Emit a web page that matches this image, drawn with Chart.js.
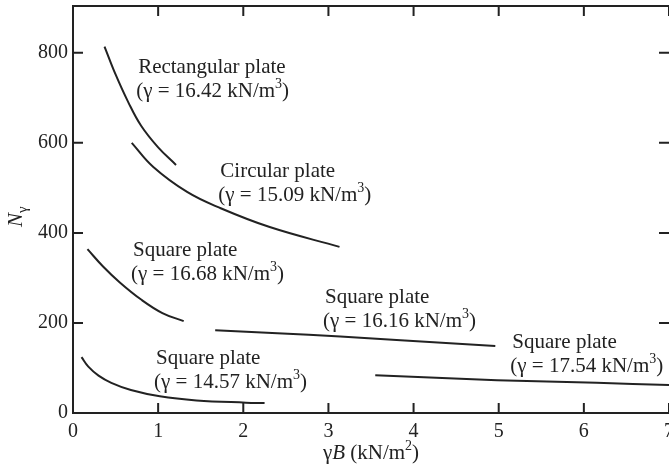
<!DOCTYPE html>
<html>
<head>
<meta charset="utf-8">
<script src="https://cdn.jsdelivr.net/npm/chart.js@4"></script>
<style>
  html, body { margin: 0; padding: 0; background: #fff; }
  canvas { display: block; }
</style>
</head>
<body>
<canvas id="nGamma" width="669" height="471"></canvas>
<script>
// tick values
const xTicks = [0, 1, 2, 3, 4, 5, 6, 7];
const yTicks = [0, 200, 400, 600, 800];

// N_gamma vs gamma*B, one pair of arrays per test series
const rectX = [0.37, 0.50, 0.65, 0.80, 1.00, 1.21];
const rectY = [814, 752, 690, 638, 590, 551];

const circX = [0.69, 0.94, 1.34, 1.72, 2.31, 3.13];
const circY = [600, 547, 491, 456, 413, 369];

const sq1668X = [0.17, 0.35, 0.55, 0.80, 1.05, 1.30];
const sq1668Y = [364, 326, 290, 252, 222, 204];

const sq1616X = [1.67, 2.40, 3.14, 3.80, 4.96];
const sq1616Y = [184, 177, 170, 162, 149];

const sq1754X = [3.55, 4.98, 6.15, 7.0];
const sq1754Y = [84, 73, 67, 62];

const sq1457X = [0.10, 0.18, 0.30, 0.45, 0.68, 1.02, 1.45, 2.03, 2.25];
const sq1457Y = [124, 103, 83, 67, 51, 37, 28, 23, 22];

const seriesNames = [
  'Rectangular plate', 'Circular plate', 'Square plate',
  'Square plate', 'Square plate', 'Square plate'
];
const seriesGamma = ['16.42', '15.09', '16.68', '16.16', '17.54', '14.57'];

const SERIF = '"Liberation Serif", "DejaVu Serif", serif';
const INK = '#222';

function pts(xs, ys) {
  return xs.map((x, i) => ({ x: x, y: ys[i] }));
}

function curve(xs, ys) {
  return {
    data: pts(xs, ys),
    showLine: true,
    borderColor: INK,
    borderWidth: 2,
    pointRadius: 0,
    tension: 0.4,
    fill: false
  };
}

// where each caption block sits (data coords of the first line's left/middle)
const captionAt = [
  { x: 0.765, y: 767 },
  { x: 1.73, y: 536 },
  { x: 0.705, y: 362 },
  { x: 2.96, y: 256 },
  { x: 5.16, y: 156 },
  { x: 0.975, y: 122 }
];

// draws runs of [text, font, raise] left to right, returns end x
function runs(ctx, parts, x, y) {
  parts.forEach(p => {
    ctx.font = p[1];
    ctx.fillText(p[0], x, y - (p[2] || 0));
    x += ctx.measureText(p[0]).width;
  });
  return x;
}

function runsWidth(ctx, parts) {
  let w = 0;
  parts.forEach(p => { ctx.font = p[1]; w += ctx.measureText(p[0]).width; });
  return w;
}

// frame with inward ticks on all four sides
const framePlugin = {
  id: 'frame',
  afterDraw(chart) {
    const { ctx, chartArea: a, scales } = chart;
    const len = 10;
    ctx.save();
    ctx.strokeStyle = INK;
    ctx.lineWidth = 2;
    ctx.beginPath();
    ctx.moveTo(a.right, a.top);
    ctx.lineTo(a.left, a.top);
    ctx.lineTo(a.left, a.bottom);
    ctx.lineTo(a.right, a.bottom);
    xTicks.forEach(v => {
      const px = scales.x.getPixelForValue(v);
      ctx.moveTo(px, a.bottom); ctx.lineTo(px, a.bottom - len);
      ctx.moveTo(px, a.top); ctx.lineTo(px, a.top + len);
    });
    yTicks.forEach(v => {
      const py = scales.y.getPixelForValue(v);
      ctx.moveTo(a.left, py); ctx.lineTo(a.left + len, py);
      ctx.moveTo(a.right, py); ctx.lineTo(a.right - len, py);
    });
    ctx.stroke();
    ctx.restore();
  }
};

// series captions and the two axis titles
const textPlugin = {
  id: 'captions',
  afterDatasetsDraw(chart) {
    const { ctx, scales } = chart;
    const f = '21px ' + SERIF;
    const sup = '14px ' + SERIF;
    ctx.save();
    ctx.fillStyle = INK;
    ctx.textBaseline = 'middle';
    ctx.textAlign = 'left';
    captionAt.forEach((c, i) => {
      const px = scales.x.getPixelForValue(c.x);
      const py = scales.y.getPixelForValue(c.y);
      runs(ctx, [[seriesNames[i], f]], px, py);
      runs(ctx, [
        ['(\u03b3 = ' + seriesGamma[i] + ' kN/m', f],
        ['3', sup, 7],
        [')', f]
      ], px - 2, py + 24);
    });

    // x title: gamma B (kN/m^2)
    const xt = [
      ['\u03b3', f],
      ['B', 'italic ' + f],
      [' (kN/m', f],
      ['2', sup, 7],
      [')', f]
    ];
    runs(ctx, xt, 371 - runsWidth(ctx, xt) / 2, 453);

    // y title: N with subscript gamma, rotated
    ctx.translate(17, 216);
    ctx.rotate(-Math.PI / 2);
    ctx.font = 'italic 21px ' + SERIF;
    const nW = ctx.measureText('N').width;
    ctx.fillText('N', -nW / 2 - 4, -1);
    ctx.font = '15px ' + SERIF;
    ctx.fillText('\u03b3', nW / 2 - 4, 6);
    ctx.restore();
  }
};

new Chart(document.getElementById('nGamma'), {
  type: 'scatter',
  data: {
    datasets: [
      curve(rectX, rectY),
      curve(circX, circY),
      curve(sq1668X, sq1668Y),
      curve(sq1616X, sq1616Y),
      curve(sq1754X, sq1754Y),
      curve(sq1457X, sq1457Y)
    ]
  },
  options: {
    responsive: false,
    animation: false,
    devicePixelRatio: 1,
    layout: { padding: { top: 6, right: 0, left: 0, bottom: 0 } },
    plugins: {
      legend: { display: false },
      tooltip: { enabled: false }
    },
    scales: {
      x: {
        type: 'linear',
        min: 0,
        max: 7,
        afterBuildTicks: s => { s.ticks = xTicks.map(v => ({ value: v })); },
        afterFit: s => { s.height = 58; s.paddingLeft = 0; s.paddingRight = 0; },
        grid: { display: false, drawTicks: false },
        border: { display: false },
        ticks: {
          padding: 7,
          color: INK,
          font: { family: SERIF, size: 20 },
          maxRotation: 0
        }
      },
      y: {
        type: 'linear',
        min: 0,
        max: 904,
        afterBuildTicks: s => { s.ticks = yTicks.map(v => ({ value: v })); },
        afterFit: s => { s.width = 73; s.paddingTop = 0; s.paddingBottom = 0; },
        grid: { display: false, drawTicks: false },
        border: { display: false },
        ticks: {
          padding: 5,
          color: INK,
          font: { family: SERIF, size: 20 }
        }
      }
    }
  },
  plugins: [framePlugin, textPlugin]
});
</script>
</body>
</html>
